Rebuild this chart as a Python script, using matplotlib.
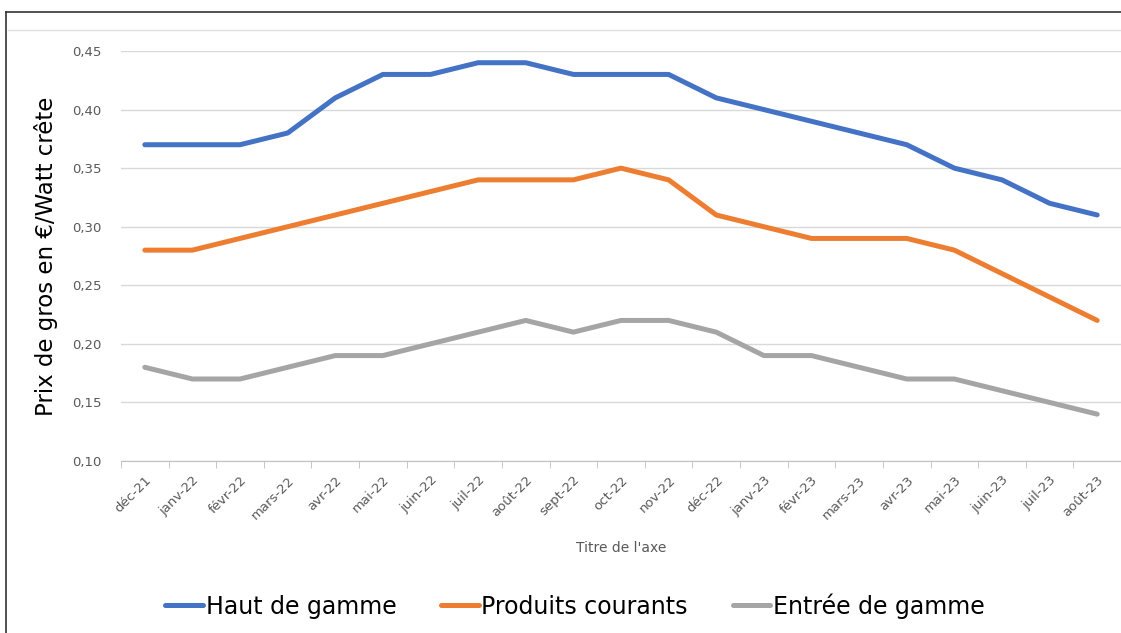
import matplotlib.pyplot as plt
from matplotlib.lines import Line2D

months = ["déc-21", "janv-22", "févr-22", "mars-22", "avr-22", "mai-22", "juin-22",
          "juil-22", "août-22", "sept-22", "oct-22", "nov-22", "déc-22", "janv-23",
          "févr-23", "mars-23", "avr-23", "mai-23", "juin-23", "juil-23", "août-23"]

haut = [0.37, 0.37, 0.37, 0.38, 0.41, 0.43, 0.43, 0.44, 0.44, 0.43, 0.43,
        0.43, 0.41, 0.40, 0.39, 0.38, 0.37, 0.35, 0.34, 0.32, 0.31]
courants = [0.28, 0.28, 0.29, 0.30, 0.31, 0.32, 0.33, 0.34, 0.34, 0.34, 0.35,
            0.34, 0.31, 0.30, 0.29, 0.29, 0.29, 0.28, 0.26, 0.24, 0.22]
entree = [0.18, 0.17, 0.17, 0.18, 0.19, 0.19, 0.20, 0.21, 0.22, 0.21, 0.22,
          0.22, 0.21, 0.19, 0.19, 0.18, 0.17, 0.17, 0.16, 0.15, 0.14]

yticks = [0.10, 0.15, 0.20, 0.25, 0.30, 0.35, 0.40, 0.45]


def main() -> None:
    fig = plt.figure(figsize=(11.21, 6.33), dpi=100)
    ax = fig.add_axes([121 / 1121, 1 - 461 / 633, 1000 / 1121, 410 / 633])

    x = list(range(len(months)))
    series = [
        (haut, "#4472C4", "Haut de gamme"),
        (courants, "#ED7D31", "Produits courants"),
        (entree, "#A5A5A5", "Entrée de gamme"),
    ]
    for values, color, label in series:
        ax.plot(x, values, color=color, lw=3.6, label=label,
                solid_joinstyle="round", solid_capstyle="round")

    ax.set_xlim(-0.5, len(months) - 0.5)
    ax.set_ylim(0.10, 0.45)
    ax.set_yticks(yticks)
    ax.set_yticklabels([f"{v:.2f}".replace(".", ",") for v in yticks])
    ax.set_xticks(x)
    ax.set_xticklabels(months, rotation=45, ha="right", rotation_mode="anchor")
    ax.set_xticks([i - 0.5 for i in range(len(months) + 1)], minor=True)

    ax.tick_params(axis="x", which="major", length=0, pad=9,
                   labelsize=9.5, labelcolor="#595959")
    ax.tick_params(axis="x", which="minor", length=5, color="#BFBFBF")
    ax.tick_params(axis="y", length=0, pad=14, labelsize=9.5, labelcolor="#595959")

    ax.grid(axis="y", color="#D9D9D9", lw=1)
    ax.set_axisbelow(True)
    for side in ["top", "right", "left"]:
        ax.spines[side].set_visible(False)
    ax.spines["bottom"].set_color("#BFBFBF")

    ax.set_ylabel("Prix de gros en €/Watt crête", fontsize=16.5, labelpad=10)
    ax.set_xlabel("Titre de l'axe", fontsize=10, color="#595959", labelpad=14)

    fig.legend(loc="center", bbox_to_anchor=(575 / 1121, 1 - 606 / 633), ncol=3,
               frameon=False, fontsize=17, handlelength=1.6, handletextpad=0.1,
               columnspacing=1.9)

    # frame of the pasted chart
    fig.add_artist(Line2D([6 / 1121, 1], [1 - 12 / 633] * 2, color="#333333", lw=1.2))
    fig.add_artist(Line2D([6 / 1121] * 2, [0, 1 - 12 / 633], color="#333333", lw=1.2))
    fig.add_artist(Line2D([8 / 1121, 1], [1 - 30 / 633] * 2, color="#E0E0E0", lw=1))

    fig.savefig("out.png", dpi=100)


if __name__ == "__main__":
    main()
